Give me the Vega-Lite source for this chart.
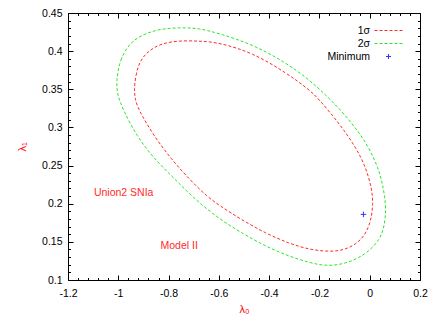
{
  "$schema": "https://vega.github.io/schema/vega-lite/v6.json",
  "width": 352,
  "height": 267,
  "autosize": "none",
  "padding": {"left": 68, "top": 13, "right": 16, "bottom": 47},
  "config": {
    "view": {"stroke": null},
    "font": "Liberation Sans",
    "axis": {"grid": false, "domainColor": "black", "tickColor": "black", "labelColor": "black", "labelFont": "Liberation Sans", "labelFontSize": 10.5, "titleFont": "Liberation Sans", "titleFontWeight": "normal", "titleColor": "red", "titleFontSize": 11},
    "legend": {"labelFont": "Liberation Sans", "labelFontSize": 10.5, "labelColor": "black"}
  },
  "datasets": {
    "curves": [
      {"series": "1σ", "i": 1, "x": -0.937, "y": 0.350},
      {"series": "1σ", "i": 2, "x": -0.931, "y": 0.368},
      {"series": "1σ", "i": 3, "x": -0.915, "y": 0.387},
      {"series": "1σ", "i": 4, "x": -0.879, "y": 0.401},
      {"series": "1σ", "i": 5, "x": -0.823, "y": 0.411},
      {"series": "1σ", "i": 6, "x": -0.743, "y": 0.414},
      {"series": "1σ", "i": 7, "x": -0.664, "y": 0.413},
      {"series": "1σ", "i": 8, "x": -0.598, "y": 0.411},
      {"series": "1σ", "i": 9, "x": -0.466, "y": 0.398},
      {"series": "1σ", "i": 10, "x": -0.334, "y": 0.372},
      {"series": "1σ", "i": 11, "x": -0.242, "y": 0.350},
      {"series": "1σ", "i": 12, "x": -0.202, "y": 0.337},
      {"series": "1σ", "i": 13, "x": -0.123, "y": 0.306},
      {"series": "1σ", "i": 14, "x": -0.057, "y": 0.275},
      {"series": "1σ", "i": 15, "x": -0.017, "y": 0.249},
      {"series": "1σ", "i": 16, "x": 0.008, "y": 0.221},
      {"series": "1σ", "i": 17, "x": 0.014, "y": 0.199},
      {"series": "1σ", "i": 18, "x": 0.004, "y": 0.176},
      {"series": "1σ", "i": 19, "x": -0.020, "y": 0.158},
      {"series": "1σ", "i": 20, "x": -0.055, "y": 0.147},
      {"series": "1σ", "i": 21, "x": -0.103, "y": 0.139},
      {"series": "1σ", "i": 22, "x": -0.162, "y": 0.137},
      {"series": "1σ", "i": 23, "x": -0.242, "y": 0.140},
      {"series": "1σ", "i": 24, "x": -0.321, "y": 0.148},
      {"series": "1σ", "i": 25, "x": -0.413, "y": 0.161},
      {"series": "1σ", "i": 26, "x": -0.515, "y": 0.180},
      {"series": "1σ", "i": 27, "x": -0.590, "y": 0.196},
      {"series": "1σ", "i": 28, "x": -0.646, "y": 0.209},
      {"series": "1σ", "i": 29, "x": -0.717, "y": 0.232},
      {"series": "1σ", "i": 30, "x": -0.788, "y": 0.258},
      {"series": "1σ", "i": 31, "x": -0.859, "y": 0.289},
      {"series": "1σ", "i": 32, "x": -0.921, "y": 0.324},
      {"series": "1σ", "i": 33, "x": -0.933, "y": 0.337},
      {"series": "2σ", "i": 1, "x": -1.008, "y": 0.361},
      {"series": "2σ", "i": 2, "x": -0.994, "y": 0.389},
      {"series": "2σ", "i": 3, "x": -0.954, "y": 0.411},
      {"series": "2σ", "i": 4, "x": -0.902, "y": 0.422},
      {"series": "2σ", "i": 5, "x": -0.836, "y": 0.429},
      {"series": "2σ", "i": 6, "x": -0.756, "y": 0.431},
      {"series": "2σ", "i": 7, "x": -0.677, "y": 0.430},
      {"series": "2σ", "i": 8, "x": -0.598, "y": 0.423},
      {"series": "2σ", "i": 9, "x": -0.466, "y": 0.409},
      {"series": "2σ", "i": 10, "x": -0.334, "y": 0.385},
      {"series": "2σ", "i": 11, "x": -0.242, "y": 0.363},
      {"series": "2σ", "i": 12, "x": -0.156, "y": 0.337},
      {"series": "2σ", "i": 13, "x": -0.070, "y": 0.306},
      {"series": "2σ", "i": 14, "x": -0.004, "y": 0.275},
      {"series": "2σ", "i": 15, "x": 0.036, "y": 0.245},
      {"series": "2σ", "i": 16, "x": 0.048, "y": 0.229},
      {"series": "2σ", "i": 17, "x": 0.059, "y": 0.212},
      {"series": "2σ", "i": 18, "x": 0.065, "y": 0.192},
      {"series": "2σ", "i": 19, "x": 0.059, "y": 0.172},
      {"series": "2σ", "i": 20, "x": 0.042, "y": 0.153},
      {"series": "2σ", "i": 21, "x": -0.017, "y": 0.133},
      {"series": "2σ", "i": 22, "x": -0.096, "y": 0.121},
      {"series": "2σ", "i": 23, "x": -0.175, "y": 0.118},
      {"series": "2σ", "i": 24, "x": -0.242, "y": 0.123},
      {"series": "2σ", "i": 25, "x": -0.321, "y": 0.131},
      {"series": "2σ", "i": 26, "x": -0.413, "y": 0.144},
      {"series": "2σ", "i": 27, "x": -0.506, "y": 0.161},
      {"series": "2σ", "i": 28, "x": -0.598, "y": 0.180},
      {"series": "2σ", "i": 29, "x": -0.693, "y": 0.205},
      {"series": "2σ", "i": 30, "x": -0.774, "y": 0.232},
      {"series": "2σ", "i": 31, "x": -0.855, "y": 0.258},
      {"series": "2σ", "i": 32, "x": -0.928, "y": 0.289},
      {"series": "2σ", "i": 33, "x": -0.982, "y": 0.324},
      {"series": "2σ", "i": 34, "x": -1.004, "y": 0.343},
      {"series": "Minimum", "i": 1, "x": -0.025, "y": 0.186}
    ],
    "labels": [
      {"x": -1.097, "y": 0.214, "text": "Union2 SNIa"},
      {"x": -0.832, "y": 0.145, "text": "Model II"}
    ]
  },
  "layer": [
    {
      "data": {"name": "curves"},
      "transform": [{"filter": "datum.series === '1σ'"}],
      "mark": {"type": "line", "interpolate": "basis-closed", "strokeWidth": 1, "strokeDash": [3, 2]},
      "encoding": {
        "x": {"field": "x", "type": "quantitative", "scale": {"domain": [-1.2, 0.2], "nice": false, "zero": false},
          "axis": {"orient": "bottom", "title": "λ₀", "values": [-1.2, -1, -0.8, -0.6, -0.4, -0.2, 0, 0.2], "labelExpr": "'' + datum.value", "tickSize": -5, "labelPadding": 13, "titlePadding": 5, "labelFlush": false}},
        "y": {"field": "y", "type": "quantitative", "scale": {"domain": [0.1, 0.45], "nice": false, "zero": false},
          "axis": {"orient": "left", "title": "λ₁", "values": [0.1, 0.15, 0.2, 0.25, 0.3, 0.35, 0.4, 0.45], "labelExpr": "'' + datum.value", "tickSize": -5, "labelPadding": 11, "titlePadding": 14, "labelFlush": false}},
        "order": {"field": "i", "type": "quantitative"},
        "color": {"field": "series", "type": "nominal",
          "scale": {"domain": ["1σ", "2σ", "Minimum"], "range": ["#ff2a2a", "#2ae62a", "#3333ff"]},
          "legend": {"orient": "none", "legendX": 315, "legendY": 12, "title": null, "symbolSize": 100, "labelAlign": "right", "labelOffset": -24, "rowPadding": 2,
            "encode": {"symbols": {"update": {
              "shape": {"signal": "datum.value === 'Minimum' ? 'M-0.5,0H0.5M0,-0.5V0.5' : 'M-2.8,0H2.8'"},
              "strokeDash": {"signal": "datum.value === 'Minimum' ? [] : [3, 2]"},
              "fill": {"value": "transparent"},
              "strokeWidth": {"value": 1},
              "opacity": {"value": 1}
            }}}}
        }
      }
    },
    {
      "data": {"name": "curves"},
      "transform": [{"filter": "datum.series === '2σ'"}],
      "mark": {"type": "line", "interpolate": "basis-closed", "strokeWidth": 1, "strokeDash": [3, 2]},
      "encoding": {
        "x": {"field": "x", "type": "quantitative",
          "axis": {"orient": "top", "title": null, "labels": false, "values": [-1.2, -1, -0.8, -0.6, -0.4, -0.2, 0, 0.2], "tickSize": -5}},
        "y": {"field": "y", "type": "quantitative",
          "axis": {"orient": "right", "title": null, "labels": false, "values": [0.1, 0.15, 0.2, 0.25, 0.3, 0.35, 0.4, 0.45], "tickSize": -5}},
        "order": {"field": "i", "type": "quantitative"},
        "color": {"field": "series", "type": "nominal",
          "legend": {"orient": "none", "legendX": 315, "legendY": 12, "title": null, "symbolSize": 100, "labelAlign": "right", "labelOffset": -24, "rowPadding": 2,
            "encode": {"symbols": {"update": {
              "shape": {"signal": "datum.value === 'Minimum' ? 'M-0.5,0H0.5M0,-0.5V0.5' : 'M-2.8,0H2.8'"},
              "strokeDash": {"signal": "datum.value === 'Minimum' ? [] : [3, 2]"},
              "fill": {"value": "transparent"},
              "strokeWidth": {"value": 1},
              "opacity": {"value": 1}
            }}}}
        }
      }
    },
    {
      "data": {"name": "curves"},
      "transform": [{"filter": "datum.series === 'Minimum'"}],
      "mark": {"type": "point", "shape": "M-1,0H1M0,-1V1", "size": 30, "filled": false, "strokeWidth": 1, "opacity": 1},
      "encoding": {
        "x": {"field": "x", "type": "quantitative",
          "axis": {"orient": "bottom", "title": null, "labels": false, "domain": false, "tickSize": -2.5,
            "values": [-1.16, -1.12, -1.08, -1.04, -0.96, -0.92, -0.88, -0.84, -0.76, -0.72, -0.68, -0.64, -0.56, -0.52, -0.48, -0.44, -0.36, -0.32, -0.28, -0.24, -0.16, -0.12, -0.08, -0.04, 0.04, 0.08, 0.12, 0.16]}},
        "y": {"field": "y", "type": "quantitative",
          "axis": {"orient": "left", "title": null, "labels": false, "domain": false, "tickSize": -2.5,
            "values": [0.11, 0.12, 0.13, 0.14, 0.16, 0.17, 0.18, 0.19, 0.21, 0.22, 0.23, 0.24, 0.26, 0.27, 0.28, 0.29, 0.31, 0.32, 0.33, 0.34, 0.36, 0.37, 0.38, 0.39, 0.41, 0.42, 0.43, 0.44]}},
        "color": {"field": "series", "type": "nominal",
          "legend": {"orient": "none", "legendX": 315, "legendY": 12, "title": null, "symbolSize": 100, "labelAlign": "right", "labelOffset": -24, "rowPadding": 2,
            "encode": {"symbols": {"update": {
              "shape": {"signal": "datum.value === 'Minimum' ? 'M-0.5,0H0.5M0,-0.5V0.5' : 'M-2.8,0H2.8'"},
              "strokeDash": {"signal": "datum.value === 'Minimum' ? [] : [3, 2]"},
              "fill": {"value": "transparent"},
              "strokeWidth": {"value": 1},
              "opacity": {"value": 1}
            }}}}
        }
      }
    },
    {
      "data": {"name": "labels"},
      "mark": {"type": "text", "align": "left", "baseline": "middle", "color": "#ff2a2a", "fontSize": 10.5, "font": "Liberation Sans"},
      "encoding": {
        "x": {"field": "x", "type": "quantitative",
          "axis": {"orient": "top", "title": null, "labels": false, "domain": false, "tickSize": -2.5,
            "values": [-1.16, -1.12, -1.08, -1.04, -0.96, -0.92, -0.88, -0.84, -0.76, -0.72, -0.68, -0.64, -0.56, -0.52, -0.48, -0.44, -0.36, -0.32, -0.28, -0.24, -0.16, -0.12, -0.08, -0.04, 0.04, 0.08, 0.12, 0.16]}},
        "y": {"field": "y", "type": "quantitative",
          "axis": {"orient": "right", "title": null, "labels": false, "domain": false, "tickSize": -2.5,
            "values": [0.11, 0.12, 0.13, 0.14, 0.16, 0.17, 0.18, 0.19, 0.21, 0.22, 0.23, 0.24, 0.26, 0.27, 0.28, 0.29, 0.31, 0.32, 0.33, 0.34, 0.36, 0.37, 0.38, 0.39, 0.41, 0.42, 0.43, 0.44]}},
        "text": {"field": "text", "type": "nominal"}
      }
    }
  ],
  "resolve": {"axis": {"x": "independent", "y": "independent"}}
}
